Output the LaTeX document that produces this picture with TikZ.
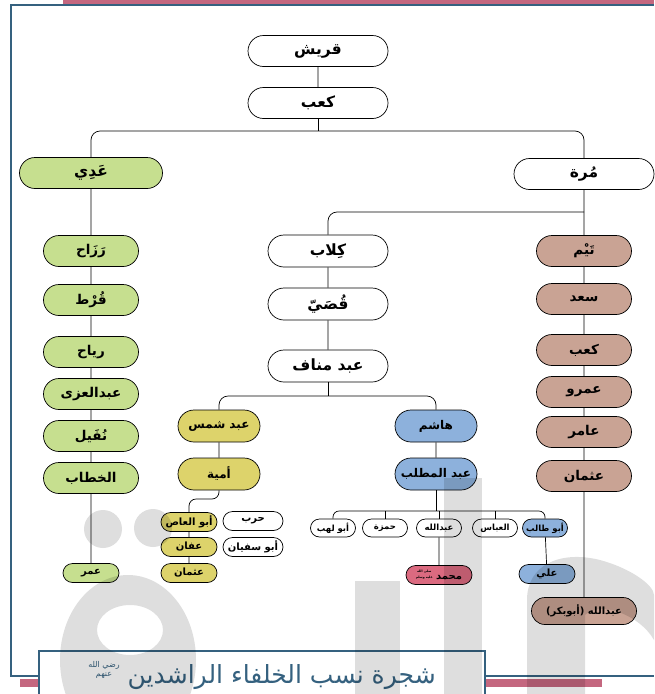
\documentclass[tikz,border=0pt]{standalone}
\usepackage{fontspec}
\usetikzlibrary{shapes.misc}
\newfontfamily\arabicfont[Script=Arabic]{DejaVu Sans}
\newfontfamily\latinfont{DejaVu Sans}
\TeXXeTstate=1
\definecolor{frameblue}{HTML}{35617F}
\definecolor{barpink}{HTML}{C4677F}
\definecolor{adigreen}{HTML}{C6DF8F}
\definecolor{taymbrown}{HTML}{C9A394}
\definecolor{shamsyellow}{HTML}{DDD36B}
\definecolor{hashimblue}{HTML}{8DB1DC}
\definecolor{nabipink}{HTML}{DB6A80}
\newcommand{\artxt}[1]{\beginR #1\endR}

\begin{document}
\begin{tikzpicture}[x=1pt, y=-1pt,
    pill/.style={rounded rectangle, draw=black, line width=0.7pt, inner sep=0pt},
    big/.style={pill, minimum width=140pt, minimum height=31pt,
      font=\arabicfont\bfseries\fontsize{15.5}{17}\selectfont},
    mid/.style={pill, minimum width=95pt, minimum height=31pt,
      font=\arabicfont\bfseries\fontsize{13.5}{15}\selectfont},
    half/.style={mid, minimum width=82pt, minimum height=32pt,
      font=\arabicfont\bfseries\fontsize{12}{14}\selectfont},
    small/.style={pill, minimum width=56pt, minimum height=19pt,
      font=\arabicfont\bfseries\fontsize{10}{11}\selectfont},
    tiny/.style={pill, minimum width=45pt, minimum height=18pt,
      font=\arabicfont\bfseries\fontsize{8.5}{10}\selectfont},
    link/.style={line width=0.7pt}]
    \useasboundingbox (0,0) rectangle (654,694);

    % frame
    \fill[barpink] (63,0) rectangle (654,3.5);
    \draw[frameblue, line width=2.5pt] (654,5) -- (11,5) -- (11,676) -- (39,676);
    \draw[frameblue, line width=2.5pt] (485,676) -- (654,676);
    \fill[barpink] (20,679) rectangle (602,687);

    \begin{scope}[every node/.style={big, fill=white}]
      \node (Qu) at (318,51) {\artxt{قريش}};
      \node (Ka) at (318,103) {\artxt{كعب}};
      \node (Mu) at (584,174) {\artxt{مُرة}};
      \node[fill=adigreen, minimum width=143pt] (Ad) at (91,173) {\artxt{عَدِي}};
      \node[minimum width=120pt, minimum height=32pt] (M1) at (328,251) {\artxt{كِلاب}};
      \node[minimum width=120pt, minimum height=32pt] (M2) at (328,304) {\artxt{قُصَيّ}};
      \node[minimum width=120pt, minimum height=32pt] (M3) at (328,366) {\artxt{عبد مناف}};
    \end{scope}

    \begin{scope}[every node/.style={mid, fill=adigreen}]
      \node (A1) at (91,251) {\artxt{رَزَاح}};
      \node (A2) at (91,300) {\artxt{قُرْط}};
      \node (A3) at (91,352) {\artxt{رياح}};
      \node (A4) at (91,394) {\artxt{عبدالعزى}};
      \node (A5) at (91,436) {\artxt{نُفَيل}};
      \node (A6) at (91,478) {\artxt{الخطاب}};
      \node[small] (A7) at (91,573) {\artxt{عمر}};
    \end{scope}

    \begin{scope}[every node/.style={mid, fill=taymbrown}]
      \node (T1) at (584,251) {\artxt{تَيْم}};
      \node (T2) at (584,299) {\artxt{سعد}};
      \node (T3) at (584,350) {\artxt{كعب}};
      \node (T4) at (584,392) {\artxt{عمرو}};
      \node (T5) at (584,432) {\artxt{عامر}};
      \node (T6) at (584,476) {\artxt{عثمان}};
      \node[small, minimum width=105pt, minimum height=27pt] (T7) at (584,611)
        {{\latinfont\bfseries(}\artxt{أبوبكر}{\latinfont\bfseries)} \artxt{عبدالله}};
    \end{scope}

    \begin{scope}[every node/.style={half, fill=shamsyellow}]
      \node (S1) at (219,426) {\artxt{عبد شمس}};
      \node (S2) at (219,474) {\artxt{أمية}};
      \node[small] (S3) at (189,522) {\artxt{أبو العاص}};
      \node[small] (S4) at (189,547) {\artxt{عفان}};
      \node[small] (S5) at (189,573) {\artxt{عثمان}};
    \end{scope}
    \node[small, fill=white, minimum width=60pt] (W1) at (253,521) {\artxt{حرب}};
    \node[small, fill=white, minimum width=60pt] (W2) at (253,547) {\artxt{أبو سفيان}};

    \begin{scope}[every node/.style={half, fill=hashimblue}]
      \node (H1) at (436,426) {\artxt{هاشم}};
      \node (H2) at (436,474) {\artxt{عبد المطلب}};
    \end{scope}

    \begin{scope}[every node/.style={tiny, fill=white}]
      \node (C1) at (333,528) {\artxt{أبو لهب}};
      \node (C2) at (385,528) {\artxt{حمزة}};
      \node (C3) at (439,528) {\artxt{عبدالله}};
      \node (C4) at (495,528) {\artxt{العباس}};
      \node[fill=hashimblue] (C5) at (545,528) {\artxt{أبو طالب}};
    \end{scope}
    \node[small, fill=nabipink, minimum width=66pt] (N1) at (439,575)
      {\artxt{محمد\ \raisebox{0.5pt}{\fontsize{3.2}{3.4}\selectfont
        \shortstack{\artxt{صلى الله}\\\artxt{عليه وسلم}}}}};
    \node[small, fill=hashimblue] (L1) at (547,574) {\artxt{علي}};

    \coordinate (j1) at (318,131);
    \coordinate (j2) at (584,212);
    \coordinate (j3) at (328,396);
    \coordinate (j4) at (219,499);
    \coordinate (j5) at (436,511);

    \draw[link] (Qu) -- (Ka);
    \draw[link] (Ka.south) -- (j1);
    \draw[link, rounded corners=9] (Ad.north) |- (j1) -| (Mu.north);
    \draw[link] (Ad) -- (A1) -- (A2) -- (A3) -- (A4) -- (A5) -- (A6) -- (A7);
    \draw[link] (Mu) -- (T1) -- (T2) -- (T3) -- (T4) -- (T5) -- (T6) -- (T7);
    \draw[link, rounded corners=9] (j2) -| (M1.north);
    \draw[link] (M1) -- (M2) -- (M3);
    \draw[link] (M3.south) -- (j3);
    \draw[link, rounded corners=9] (S1.north) |- (j3) -| (H1.north);
    \draw[link] (S1) -- (S2);
    \draw[link, rounded corners=7] (S2.south) -- (j4) -| (S3.north);
    \draw[link] (S3) -- (S4) -- (S5);
    \draw[link] (H1) -- (H2);
    \draw[link] (H2.south) -- (j5);
    \draw[link, rounded corners=6] (C1.north) |- (j5) -| (C5.north);
    \foreach \c in {C2,C3,C4}
      \draw[link] (\c.north) -- (\c.north |- j5);
    \draw[link] (C3) -- (N1);
    \draw[link] (C5) -- (L1);

    % title
    \node[draw=frameblue, line width=2pt, fill=white, minimum width=446pt, minimum height=50pt,
      text=frameblue, font=\arabicfont\fontsize{25}{28}\selectfont] (TT) at (262,676)
      {\raisebox{7pt}{\artxt{شجرة نسب الخلفاء الراشدين\ \raisebox{7pt}{\fontsize{8}{8.5}\selectfont
        \shortstack{\artxt{رضي الله}\\\artxt{عنهم}}}}}};

    % watermark
    \begin{scope}[fill=black, fill opacity=0.13]
      \fill (103,529) circle (19);
      \fill (153,528) circle (19);
      \fill[even odd rule] (128,660) ellipse (68 and 85) (130,630) ellipse (33 and 25);
      \fill (355,581) rectangle (400,694);
      \fill (444,478) rectangle (482,694);
      \fill (527,694) -- (527,600) .. controls (527,565) and (560,550) .. (600,560)
        .. controls (630,568) and (654,585) .. (654,595) -- (654,640)
        .. controls (640,615) and (600,600) .. (585,615) -- (585,694) -- cycle;
    \end{scope}
  \end{tikzpicture}
\end{document}
